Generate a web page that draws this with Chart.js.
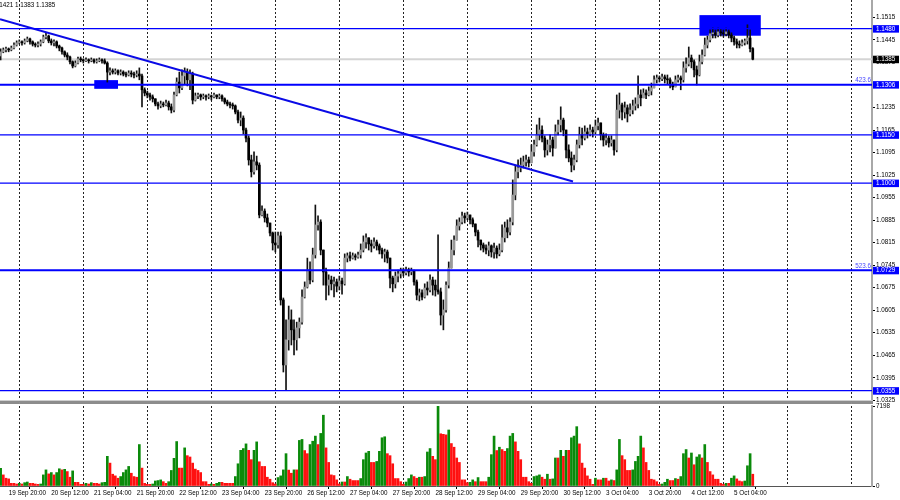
<!DOCTYPE html>
<html><head><meta charset="utf-8">
<script src="https://cdn.jsdelivr.net/npm/chart.js@4.4.0/dist/chart.umd.min.js"></script>
<style>
html,body{margin:0;padding:0;background:#fff;width:900px;height:500px;overflow:hidden}
#wrap{position:relative;width:900px;height:500px}
canvas{position:absolute;left:0}
#pc{top:0}
#vc{top:400px}
</style></head><body>
<div id="wrap"><canvas id="pc" width="900" height="406"></canvas><canvas id="vc" width="900" height="100"></canvas></div>
<script>
// ---- DATA (GBPUSD H1, first bar 19 Sep 17:00) ----
const firstBarTime = Date.UTC(2022, 8, 19, 17);
const firstOpen = 1.1395;
const closes = [
1.1408,1.1414,1.1417,1.1414,1.1420,1.1429,1.1436,1.1439,1.1436,1.1442,
1.1448,1.1439,1.1432,1.1429,1.1432,1.1439,1.1454,1.1457,1.1442,1.1436,
1.1439,1.1426,1.1420,1.1408,1.1398,1.1392,1.1377,1.1364,1.1373,1.1386,
1.1383,1.1380,1.1383,1.1380,1.1383,1.1377,1.1380,1.1383,1.1380,1.1373,
1.1345,1.1349,1.1345,1.1349,1.1342,1.1345,1.1339,1.1336,1.1342,1.1339,
1.1336,1.1339,1.1333,1.1290,1.1280,1.1274,1.1268,1.1262,1.1246,1.1240,
1.1246,1.1243,1.1249,1.1237,1.1227,1.1274,1.1314,1.1296,1.1333,1.1345,
1.1321,1.1339,1.1258,1.1271,1.1274,1.1268,1.1271,1.1268,1.1271,1.1268,
1.1274,1.1268,1.1271,1.1262,1.1252,1.1246,1.1243,1.1240,1.1221,1.1196,
1.1202,1.1165,1.1140,1.1072,1.1035,1.1066,1.1056,1.0901,1.0913,1.0892,
1.0876,1.0845,1.0814,1.0808,1.0836,1.0637,1.0435,1.0513,1.0575,1.0544,
1.0513,1.0550,1.0568,1.0646,1.0677,1.0730,1.0699,1.0777,1.0870,1.0879,
1.0792,1.0724,1.0683,1.0699,1.0687,1.0693,1.0680,1.0696,1.0687,1.0767,
1.0774,1.0767,1.0774,1.0770,1.0777,1.0792,1.0817,1.0830,1.0811,1.0805,
1.0817,1.0805,1.0792,1.0780,1.0786,1.0767,1.0705,1.0687,1.0711,1.0718,
1.0727,1.0721,1.0730,1.0724,1.0727,1.0693,1.0652,1.0659,1.0646,1.0674,
1.0668,1.0699,1.0683,1.0668,1.0662,1.0590,1.0606,1.0683,1.0736,1.0792,
1.0823,1.0867,1.0879,1.0898,1.0892,1.0901,1.0886,1.0873,1.0848,1.0823,
1.0808,1.0798,1.0792,1.0805,1.0786,1.0798,1.0780,1.0792,1.0830,1.0861,
1.0848,1.0879,1.0963,1.1035,1.1047,1.1056,1.1066,1.1072,1.1063,1.1097,
1.1119,1.1150,1.1165,1.1140,1.1103,1.1119,1.1134,1.1109,1.1159,1.1181,
1.1196,1.1165,1.1103,1.1078,1.1056,1.1072,1.1119,1.1150,1.1140,1.1159,
1.1153,1.1165,1.1159,1.1178,1.1187,1.1150,1.1134,1.1140,1.1125,1.1134,
1.1103,1.1227,1.1243,1.1221,1.1234,1.1215,1.1227,1.1240,1.1246,1.1274,
1.1265,1.1280,1.1274,1.1286,1.1296,1.1321,1.1327,1.1324,1.1330,1.1324,
1.1321,1.1305,1.1299,1.1321,1.1327,1.1321,1.1358,1.1370,1.1389,1.1377,
1.1352,1.1336,1.1377,1.1398,1.1429,1.1445,1.1464,1.1467,1.1460,1.1470,
1.1467,1.1464,1.1470,1.1460,1.1451,1.1439,1.1432,1.1429,1.1436,1.1442,
1.1451,1.1418,1.1385];
const highs = [
1.1417,1.1420,1.1423,1.1420,1.1426,1.1436,1.1442,1.1445,1.1442,1.1448,
1.1454,1.1451,1.1442,1.1436,1.1439,1.1445,1.1460,1.1467,1.1460,1.1448,
1.1445,1.1442,1.1429,1.1423,1.1411,1.1405,1.1395,1.1380,1.1380,1.1392,
1.1392,1.1386,1.1389,1.1386,1.1389,1.1386,1.1386,1.1389,1.1386,1.1386,
1.1377,1.1358,1.1355,1.1355,1.1352,1.1352,1.1349,1.1345,1.1349,1.1349,
1.1345,1.1349,1.1358,1.1339,1.1296,1.1286,1.1280,1.1274,1.1262,1.1252,
1.1255,1.1252,1.1258,1.1255,1.1246,1.1283,1.1327,1.1345,1.1352,1.1358,
1.1355,1.1352,1.1345,1.1280,1.1280,1.1277,1.1277,1.1274,1.1277,1.1274,
1.1280,1.1274,1.1277,1.1274,1.1265,1.1258,1.1252,1.1249,1.1243,1.1227,
1.1221,1.1209,1.1171,1.1147,1.1087,1.1097,1.1084,1.1063,1.0929,1.0920,
1.0904,1.0873,1.0848,1.0848,1.0848,1.0848,1.0643,1.0575,1.0618,1.0606,
1.0575,1.0568,1.0581,1.0668,1.0693,1.0767,1.0755,1.0798,1.0932,1.0898,
1.0886,1.0792,1.0736,1.0715,1.0711,1.0708,1.0702,1.0711,1.0705,1.0780,
1.0783,1.0786,1.0783,1.0780,1.0786,1.0811,1.0836,1.0842,1.0830,1.0823,
1.0830,1.0823,1.0811,1.0798,1.0795,1.0792,1.0767,1.0711,1.0724,1.0730,
1.0736,1.0736,1.0739,1.0736,1.0736,1.0730,1.0699,1.0671,1.0668,1.0687,
1.0693,1.0715,1.0708,1.0699,1.0839,1.0674,1.0637,1.0693,1.0755,1.0823,
1.0836,1.0886,1.0892,1.0910,1.0907,1.0910,1.0901,1.0892,1.0873,1.0854,
1.0823,1.0814,1.0808,1.0817,1.0808,1.0814,1.0805,1.0811,1.0870,1.0879,
1.0886,1.0892,1.1010,1.1056,1.1072,1.1078,1.1084,1.1087,1.1081,1.1119,
1.1134,1.1181,1.1202,1.1178,1.1147,1.1134,1.1150,1.1143,1.1181,1.1196,
1.1237,1.1202,1.1165,1.1119,1.1097,1.1087,1.1134,1.1174,1.1171,1.1178,
1.1171,1.1181,1.1174,1.1196,1.1202,1.1181,1.1156,1.1153,1.1147,1.1147,
1.1134,1.1274,1.1280,1.1249,1.1252,1.1243,1.1246,1.1258,1.1265,1.1333,
1.1290,1.1293,1.1290,1.1299,1.1311,1.1333,1.1336,1.1333,1.1339,1.1336,
1.1336,1.1327,1.1314,1.1333,1.1336,1.1333,1.1377,1.1389,1.1423,1.1398,
1.1383,1.1364,1.1398,1.1414,1.1451,1.1457,1.1476,1.1482,1.1476,1.1482,
1.1479,1.1476,1.1482,1.1476,1.1467,1.1457,1.1448,1.1442,1.1445,1.1448,
1.1492,1.1476,1.1421];
const lows = [
1.1383,1.1405,1.1408,1.1408,1.1411,1.1417,1.1426,1.1432,1.1429,1.1432,
1.1439,1.1432,1.1426,1.1423,1.1423,1.1426,1.1436,1.1448,1.1436,1.1429,
1.1426,1.1420,1.1411,1.1401,1.1392,1.1383,1.1370,1.1358,1.1361,1.1370,
1.1377,1.1373,1.1377,1.1373,1.1377,1.1373,1.1373,1.1377,1.1373,1.1370,
1.1314,1.1336,1.1339,1.1339,1.1336,1.1336,1.1333,1.1330,1.1333,1.1330,
1.1327,1.1330,1.1321,1.1237,1.1271,1.1265,1.1258,1.1252,1.1240,1.1230,
1.1234,1.1237,1.1240,1.1227,1.1218,1.1221,1.1271,1.1280,1.1290,1.1308,
1.1302,1.1290,1.1246,1.1255,1.1262,1.1258,1.1262,1.1258,1.1262,1.1258,
1.1265,1.1262,1.1262,1.1255,1.1246,1.1240,1.1234,1.1230,1.1215,1.1187,
1.1178,1.1153,1.1128,1.1056,1.1019,1.1028,1.1041,1.0892,1.0898,1.0879,
1.0864,1.0836,1.0792,1.0786,1.0798,1.0621,1.0413,1.0357,1.0481,1.0497,
1.0466,1.0481,1.0519,1.0562,1.0643,1.0674,1.0687,1.0693,1.0767,1.0854,
1.0777,1.0683,1.0637,1.0652,1.0668,1.0646,1.0662,1.0668,1.0655,1.0683,
1.0755,1.0758,1.0764,1.0761,1.0767,1.0767,1.0786,1.0798,1.0792,1.0786,
1.0798,1.0792,1.0780,1.0767,1.0755,1.0752,1.0674,1.0662,1.0674,1.0693,
1.0705,1.0711,1.0715,1.0711,1.0715,1.0683,1.0637,1.0634,1.0637,1.0643,
1.0652,1.0662,1.0652,1.0649,1.0655,1.0559,1.0544,1.0599,1.0674,1.0736,
1.0777,1.0823,1.0854,1.0873,1.0876,1.0886,1.0873,1.0864,1.0836,1.0802,
1.0792,1.0786,1.0780,1.0774,1.0770,1.0767,1.0767,1.0774,1.0786,1.0817,
1.0830,1.0839,1.0870,1.0948,1.1016,1.1035,1.1047,1.1053,1.1050,1.1066,
1.1084,1.1115,1.1134,1.1128,1.1081,1.1087,1.1097,1.1084,1.1109,1.1150,
1.1159,1.1147,1.1078,1.1066,1.1035,1.1041,1.1066,1.1109,1.1119,1.1134,
1.1140,1.1147,1.1143,1.1153,1.1165,1.1134,1.1115,1.1119,1.1112,1.1115,
1.1087,1.1097,1.1202,1.1196,1.1202,1.1190,1.1209,1.1215,1.1227,1.1234,
1.1240,1.1265,1.1262,1.1271,1.1274,1.1296,1.1311,1.1314,1.1318,1.1311,
1.1308,1.1296,1.1290,1.1302,1.1314,1.1290,1.1314,1.1345,1.1364,1.1358,
1.1330,1.1305,1.1333,1.1370,1.1395,1.1420,1.1439,1.1451,1.1451,1.1454,
1.1457,1.1454,1.1457,1.1451,1.1439,1.1429,1.1420,1.1420,1.1426,1.1429,
1.1432,1.1408,1.1383];
const volumes = [
1600,1000,700,640,240,240,180,240,180,300,
360,240,240,180,150,180,1000,1450,1090,1210,
1000,1210,1550,1450,1500,1300,790,1360,330,330,
150,150,240,180,300,240,240,180,300,330,
2670,2060,1060,910,700,850,1210,1450,1760,1150,
850,790,3730,1610,240,150,150,180,450,490,
550,390,240,390,1400,2490,4000,1610,1610,3430,
2730,2610,2060,1520,1400,1210,390,390,150,180,
150,240,330,330,240,240,240,240,850,2000,
3210,3370,3790,3210,2370,3210,3970,2180,1760,1760,
790,610,300,180,760,910,1450,2910,1430,1150,
1450,1450,4100,4190,3190,2910,3730,4030,4490,3730,
4730,6370,3430,2120,1000,940,550,180,360,360,
850,610,490,490,490,670,2370,2970,3120,2120,
2120,2210,3120,4340,4430,2910,2730,2000,670,670,
390,150,360,670,1000,850,700,790,790,850,
3060,3370,2670,2370,7198,4700,4650,4600,5040,3820,
3490,2520,2120,550,550,300,330,550,390,760,
390,390,390,790,2820,4490,3190,3490,3280,3120,
3370,4490,4730,3970,3120,2370,790,790,390,240,
850,910,1000,790,610,1060,610,640,2520,2520,
3210,2670,3210,3210,4340,4490,5340,3790,2060,1610,
910,610,150,700,550,550,700,700,450,550,
490,1450,4190,2730,2370,1400,1400,1450,2210,2670,
4490,3430,2120,1400,610,550,390,150,180,330,
610,490,490,670,610,850,2910,3280,2520,2970,
1910,2610,2820,2520,3730,2120,1300,1000,610,610,
240,150,240,240,700,910,640,450,390,450,
1820,2910,1060];

const priceTicks = [1.0325,1.0395,1.0465,1.0535,1.0605,1.0675,1.0745,1.0815,1.0885,1.0955,1.1025,1.1095,1.1165,1.1235,1.1305,1.1375,1.1445,1.1515];
const levels = [1.1480, 1.1306, 1.1150, 1.1000, 1.0729, 1.0355];
const fibLevels = [1.1306, 1.0729];
const fibTexts = ['423.6', '523.6'];
const trendBars = [-0.24, 214.6];
const trendPrices = [1.1509, 1.1005];
const zoneBars = [[35.1, 44.0], [262, 285]];
const zonePrices = [[1.1320, 1.1293], [1.1522, 1.1458]];
const labelFirstBar = 3, labelStep = 16;

// ---- derived ----
const N = closes.length;
const opens = [firstOpen].concat(closes.slice(0, -1));
const X_MIN = -0.24, X_MAX = 326.7;
const P_MIN = 1.0326, P_MAX = 1.1569;
const VOL_MAX = Math.max(...volumes);
const MON = ['Jan','Feb','Mar','Apr','May','Jun','Jul','Aug','Sep','Oct','Nov','Dec'];
const slots = [];
for (let t = firstBarTime; slots.length < Math.ceil(X_MAX) + 1; t += 3600000) {
  const d = new Date(t); const wd = d.getUTCDay();
  if (wd === 0 || wd === 6) continue;
  slots.push({label: d.getUTCDate() + ' ' + MON[d.getUTCMonth()] + ' ' + String(d.getUTCHours()).padStart(2,'0') + ':00', hour: d.getUTCHours()});
}
const sepIdx = slots.map((s,i)=> s.hour === 0 ? i : -1).filter(i => i >= 0);
const labelIdx = [];
for (let i = labelFirstBar; i < N; i += labelStep) labelIdx.push(i);

const FONT = {family: 'Liberation Sans', size: 6.3};
const FONT_CSS = '6.3px "Liberation Sans"';
const BLUE = '#0000ff';

const separatorPlugin = {
  id: 'sep',
  beforeDatasetsDraw(chart) {
    const {ctx, chartArea: a, scales: {x}} = chart;
    ctx.save();
    ctx.strokeStyle = '#222'; ctx.lineWidth = 1; ctx.setLineDash([2, 2]);
    sepIdx.forEach(i => {
      const px = Math.round(x.getPixelForValue(i)) + 0.5;
      if (px < a.left || px > a.right) return;
      ctx.beginPath(); ctx.moveTo(px, a.top); ctx.lineTo(px, a.bottom); ctx.stroke();
    });
    ctx.restore();
  }
};
const zonePlugin = {
  id: 'zones',
  beforeDatasetsDraw(chart) {
    const {ctx, scales: {x, y}} = chart;
    ctx.save(); ctx.fillStyle = BLUE;
    zoneBars.forEach((b, k) => {
      const x0 = x.getPixelForValue(b[0]), x1 = x.getPixelForValue(b[1]);
      const y0 = y.getPixelForValue(zonePrices[k][0]), y1 = y.getPixelForValue(zonePrices[k][1]);
      ctx.fillRect(x0, y0, x1 - x0, y1 - y0);
    });
    ctx.restore();
  }
};
const overlayPlugin = {
  id: 'overlay',
  afterDraw(chart) {
    const {ctx, chartArea: a, scales: {y}} = chart;
    ctx.save();
    ctx.font = FONT_CSS; ctx.textBaseline = 'middle'; ctx.textAlign = 'left';
    const box = (v, bg) => {
      const py = y.getPixelForValue(v);
      ctx.fillStyle = bg; ctx.fillRect(a.right + 1, py - 3.5, 26, 7.5);
      ctx.fillStyle = '#fff'; ctx.fillText(v.toFixed(4), a.right + 4, py + 0.3);
    };
    levels.forEach(v => box(v, BLUE));
    box(closes[N - 1], '#000');
    ctx.fillStyle = '#4a4aff'; ctx.textAlign = 'right'; ctx.textBaseline = 'bottom';
    fibLevels.forEach((v, k) => ctx.fillText(fibTexts[k], a.right - 1, y.getPixelForValue(v) - 1));
    ctx.fillStyle = '#000'; ctx.textAlign = 'left'; ctx.textBaseline = 'middle';
    ctx.fillText(highs[N-1].toFixed(4) + ' ' + lows[N-1].toFixed(4) + ' ' + closes[N-1].toFixed(4), -6, 5);
    ctx.restore();
  }
};

const xBase = {type: 'linear', min: X_MIN, max: X_MAX, offset: false};
const fixY = s => { s.width = 28; s.paddingTop = 0; s.paddingBottom = 0; };

const levelSets = levels.map(v => ({
  type: 'line', data: [{x: X_MIN, y: v}, {x: X_MAX, y: v}],
  borderColor: BLUE, borderWidth: fibLevels.includes(v) ? 2 : 1.4,
  pointRadius: 0, order: 0
}));

new Chart(document.getElementById('pc'), {
  type: 'bar',
  data: {datasets: [
    ...levelSets,
    {type: 'line', data: trendBars.map((b, k) => ({x: b, y: trendPrices[k]})),
     borderColor: '#0a0ae6', borderWidth: 2, pointRadius: 0, order: 0},
    {data: closes.map((c, i) => ({x: i, y: [opens[i], c]})), grouped: false, barThickness: 2, minBarLength: 1,
     backgroundColor: ctx => closes[ctx.dataIndex] >= opens[ctx.dataIndex] ? '#9a9a9a' : '#000', borderWidth: 0, order: 1},
    {data: closes.map((c, i) => ({x: i, y: [Math.min(lows[i], opens[i], c), Math.max(highs[i], opens[i], c)]})),
     grouped: false, barThickness: 1, backgroundColor: '#111', borderWidth: 0, order: 2},
    {type: 'line', data: [{x: X_MIN, y: closes[N-1]}, {x: X_MAX, y: closes[N-1]}],
     borderColor: '#d4d4d4', borderWidth: 2, pointRadius: 0, order: 3}
  ]},
  options: {
    responsive: false, animation: false, devicePixelRatio: 1,
    layout: {padding: {top: 0, left: 0, right: 0, bottom: 6}},
    plugins: {legend: {display: false}, tooltip: {enabled: false}},
    scales: {
      x: {...xBase, display: false},
      y: {type: 'linear', position: 'right', min: P_MIN, max: P_MAX,
        afterBuildTicks: s => { s.ticks = priceTicks.map(v => ({value: v})); },
        afterFit: fixY,
        grid: {drawOnChartArea: false, drawTicks: true, tickLength: 3, color: '#000'},
        border: {display: true, color: '#a8a8a8', width: 2},
        ticks: {font: FONT, color: '#000', padding: 1, autoSkip: false, callback: v => Number(v).toFixed(4)}}
    }
  },
  plugins: [separatorPlugin, zonePlugin, overlayPlugin]
});

const bandPlugin = {
  id: 'band',
  beforeDraw(chart) {
    const {ctx, chartArea: a} = chart;
    ctx.save(); ctx.fillStyle = '#8c8c8c'; ctx.fillRect(0, 1, a.right + 1, 3);
    ctx.fillStyle = '#cfcfcf'; ctx.fillRect(0, 0, a.right + 1, 1);
    ctx.restore();
  }
};

new Chart(document.getElementById('vc'), {
  type: 'bar',
  data: {datasets: [{
    data: volumes.map((v, i) => ({x: i, y: v})), grouped: false, barThickness: 2, borderWidth: 0,
    backgroundColor: ctx => (ctx.dataIndex === 0 || volumes[ctx.dataIndex] > volumes[ctx.dataIndex - 1]) ? '#0a8a0a' : '#ff1010'
  }]},
  options: {
    responsive: false, animation: false, devicePixelRatio: 1,
    layout: {padding: {top: 6, left: 0, right: 0, bottom: 0}},
    plugins: {legend: {display: false}, tooltip: {enabled: false}},
    scales: {
      x: {...xBase, display: true, position: 'bottom',
        afterBuildTicks: s => { s.ticks = labelIdx.map(v => ({value: v})); },
        afterFit: s => { s.height = 14; s.paddingLeft = 0; s.paddingRight = 0; },
        grid: {drawOnChartArea: false, drawTicks: true, tickLength: 3, color: '#000'},
        border: {display: true, color: '#555', width: 1},
        ticks: {autoSkip: false, maxRotation: 0, minRotation: 0, align: 'start', padding: 0, font: FONT, color: '#000',
                callback: v => slots[v] ? slots[v].label : ''}},
      y: {type: 'linear', position: 'right', min: 0, max: VOL_MAX,
        afterBuildTicks: s => { s.ticks = [{value: 0}, {value: VOL_MAX}]; },
        afterFit: fixY,
        grid: {drawOnChartArea: false, drawTicks: true, tickLength: 3, color: '#000'},
        border: {display: true, color: '#a8a8a8', width: 2},
        ticks: {font: FONT, color: '#000', padding: 1, autoSkip: false, callback: v => String(v)}}
    }
  },
  plugins: [bandPlugin, separatorPlugin]
});
</script>
</body></html>
